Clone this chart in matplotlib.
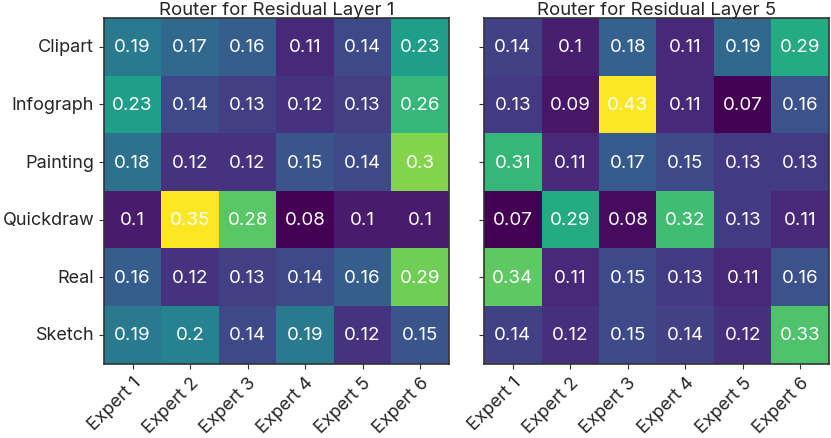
import matplotlib
matplotlib.use("Agg")
import matplotlib.pyplot as plt
import numpy as np
import seaborn as sns

sns.set_style("ticks")
plt.rcParams['font.family'] = ['Inter', 'DejaVu Sans']

domains = ["Clipart", "Infograph", "Painting", "Quickdraw", "Real", "Sketch"]
experts = ["Expert 1", "Expert 2", "Expert 3", "Expert 4", "Expert 5", "Expert 6"]

# routing weights, layer 1
layer1 = [
    [0.19, 0.17, 0.16, 0.11, 0.14, 0.23],
    [0.23, 0.14, 0.13, 0.12, 0.13, 0.26],
    [0.18, 0.12, 0.12, 0.15, 0.14, 0.3],
    [0.1, 0.35, 0.28, 0.08, 0.1, 0.1],
    [0.16, 0.12, 0.13, 0.14, 0.16, 0.29],
    [0.19, 0.2, 0.14, 0.19, 0.12, 0.15],
]
# routing weights, layer 5
layer5 = [
    [0.14, 0.1, 0.18, 0.11, 0.19, 0.29],
    [0.13, 0.09, 0.43, 0.11, 0.07, 0.16],
    [0.31, 0.11, 0.17, 0.15, 0.13, 0.13],
    [0.07, 0.29, 0.08, 0.32, 0.13, 0.11],
    [0.34, 0.11, 0.15, 0.13, 0.11, 0.16],
    [0.14, 0.12, 0.15, 0.14, 0.12, 0.33],
]

fig = plt.figure(figsize=(8.31, 4.39), dpi=100)
ax1 = fig.add_axes([0.125, 0.169, 0.415, 0.788])
ax2 = fig.add_axes([0.5825, 0.169, 0.415, 0.788])

for ax, data, title, show_y in [(ax1, layer1, "Router for Residual Layer 1", True),
                                (ax2, layer5, "Router for Residual Layer 5", False)]:
    sns.heatmap(np.array(data), ax=ax, cmap="viridis", cbar=False, annot=True, fmt="g",
                annot_kws={"color": "white", "fontsize": 13.5},
                xticklabels=experts, yticklabels=domains if show_y else False)
    ax.set_title(title, fontsize=13.4, pad=2)
    ax.tick_params(axis="x", labelsize=13, rotation=45, color="#333333")
    ax.tick_params(axis="y", labelsize=13, rotation=0, color="#333333")
    for lab in ax.get_xticklabels():
        lab.set_ha("right")
        lab.set_rotation_mode("anchor")
    if not show_y:
        ax.set_yticks(np.arange(len(domains)) + 0.5)
        ax.set_yticklabels([])
    for sp in ax.spines.values():
        sp.set_visible(True)
        sp.set_color("#333333")
        sp.set_linewidth(1.2)

fig.savefig("out.png", dpi=100)
